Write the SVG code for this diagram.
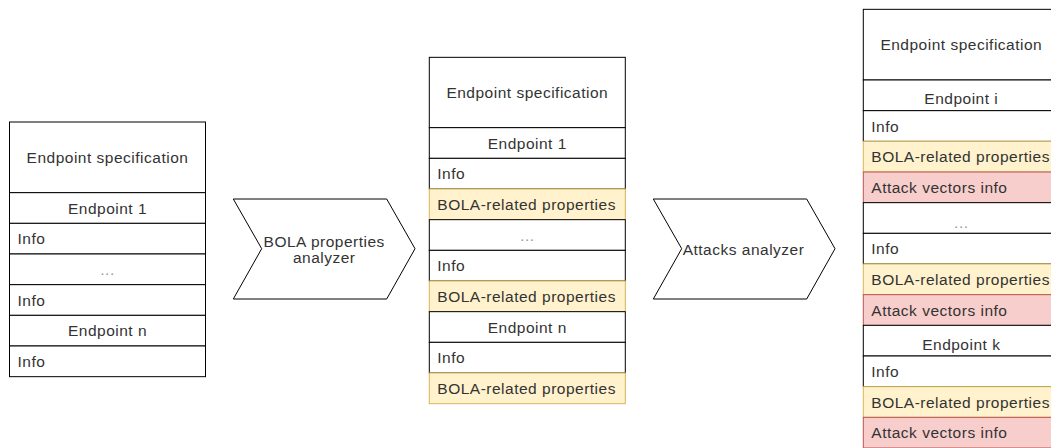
<svg xmlns="http://www.w3.org/2000/svg" width="1051" height="448" viewBox="0 0 1051 448">
<style>
.box{fill:#ffffff;stroke:#000000;stroke-width:1}
.yel{fill:#fff2cc;stroke:#d6b656;stroke-width:1}
.red{fill:#f8cecc;stroke:#b85450;stroke-width:1}
.shape{fill:#ffffff;stroke:#000000;stroke-width:1}
text{font-family:"Liberation Sans",Arial,Helvetica,sans-serif;font-size:15.5px;fill:#333333;letter-spacing:0.5px}
.c{text-anchor:middle}
.dots{fill:#999999}
</style>
<rect width="1051" height="448" fill="#ffffff"/>
<g id="connectors"></g>

<g id="spec-input">
<rect class="box" x="9.5" y="122" width="196" height="70.67"/>
<text class="c" x="107.5" y="162.8">Endpoint specification</text>
<rect class="box" x="9.5" y="192.67" width="196" height="30.67"/>
<text class="c" x="107.5" y="213.5">Endpoint 1</text>
<rect class="box" x="9.5" y="223.33" width="196" height="30.67"/>
<text x="17.5" y="244.1">Info</text>
<rect class="box" x="9.5" y="254" width="196" height="30.67"/>
<text class="c dots" x="107.5" y="274.8">...</text>
<rect class="box" x="9.5" y="284.67" width="196" height="30.67"/>
<text x="17.5" y="305.5">Info</text>
<rect class="box" x="9.5" y="315.33" width="196" height="30.67"/>
<text class="c" x="107.5" y="336.1">Endpoint n</text>
<rect class="box" x="9.5" y="346" width="196" height="30.67"/>
<text x="17.5" y="366.8">Info</text>
</g>

<g id="bola-analyzer">
<polygon class="shape" points="233.3,199 386.7,199 415,248.7 386.7,299 233.3,299 261.7,248.7"/>
<text class="c" x="324.2" y="246.7">BOLA properties</text>
<text class="c" x="324.2" y="263.4">analyzer</text>
</g>

<g id="spec-bola">
<rect class="box" x="429.3" y="57.33" width="196" height="70.33"/>
<text class="c" x="527.3" y="98">Endpoint specification</text>
<rect class="box" x="429.3" y="127.67" width="196" height="30.67"/>
<text class="c" x="527.3" y="148.5">Endpoint 1</text>
<rect class="box" x="429.3" y="158.33" width="196" height="30.67"/>
<text x="437.3" y="179.1">Info</text>
<rect class="yel" x="429.3" y="189" width="196" height="30.67"/>
<text x="437.3" y="209.8">BOLA-related properties</text>
<rect class="box" x="429.3" y="219.67" width="196" height="30.67"/>
<text class="c dots" x="527.3" y="240.5">...</text>
<rect class="box" x="429.3" y="250.33" width="196" height="30.67"/>
<text x="437.3" y="271.1">Info</text>
<rect class="yel" x="429.3" y="281" width="196" height="30.67"/>
<text x="437.3" y="301.8">BOLA-related properties</text>
<rect class="box" x="429.3" y="311.67" width="196" height="30.67"/>
<text class="c" x="527.3" y="332.5">Endpoint n</text>
<rect class="box" x="429.3" y="342.33" width="196" height="30.67"/>
<text x="437.3" y="363.1">Info</text>
<rect class="yel" x="429.3" y="373" width="196" height="30.67"/>
<text x="437.3" y="393.8">BOLA-related properties</text>
</g>

<g id="attacks-analyzer">
<polygon class="shape" points="653.3,199 806.7,199 835,248.7 806.7,299 653.3,299 681.7,248.7"/>
<text class="c" x="743.5" y="255">Attacks analyzer</text>
</g>

<g id="spec-attacks">
<rect class="box" x="863.3" y="9.33" width="196" height="70.67"/>
<text class="c" x="961.3" y="50.2">Endpoint specification</text>
<rect class="box" x="863.3" y="80" width="196" height="30.67"/>
<text class="c" x="961.3" y="104.3">Endpoint i</text>
<rect class="box" x="863.3" y="110.67" width="196" height="30.67"/>
<text x="871.3" y="131.5">Info</text>
<rect class="yel" x="863.3" y="141.33" width="196" height="30.67"/>
<text x="871.3" y="162.1">BOLA-related properties</text>
<rect class="red" x="863.3" y="172" width="196" height="30.67"/>
<text x="871.3" y="192.8">Attack vectors info</text>
<rect class="box" x="863.3" y="202.67" width="196" height="30.67"/>
<text class="c dots" x="961.3" y="227.5">...</text>
<rect class="box" x="863.3" y="233.33" width="196" height="30.67"/>
<text x="871.3" y="254.1">Info</text>
<rect class="yel" x="863.3" y="264" width="196" height="30.67"/>
<text x="871.3" y="284.8">BOLA-related properties</text>
<rect class="red" x="863.3" y="294.67" width="196" height="30.67"/>
<text x="871.3" y="315.5">Attack vectors info</text>
<rect class="box" x="863.3" y="325.33" width="196" height="30.67"/>
<text class="c" x="961.3" y="349.6">Endpoint k</text>
<rect class="box" x="863.3" y="356" width="196" height="30.67"/>
<text x="871.3" y="376.8">Info</text>
<rect class="yel" x="863.3" y="386.67" width="196" height="30.67"/>
<text x="871.3" y="407.5">BOLA-related properties</text>
<rect class="red" x="863.3" y="417.33" width="196" height="30.67"/>
<text x="871.3" y="438.1">Attack vectors info</text>
</g>
</svg>
